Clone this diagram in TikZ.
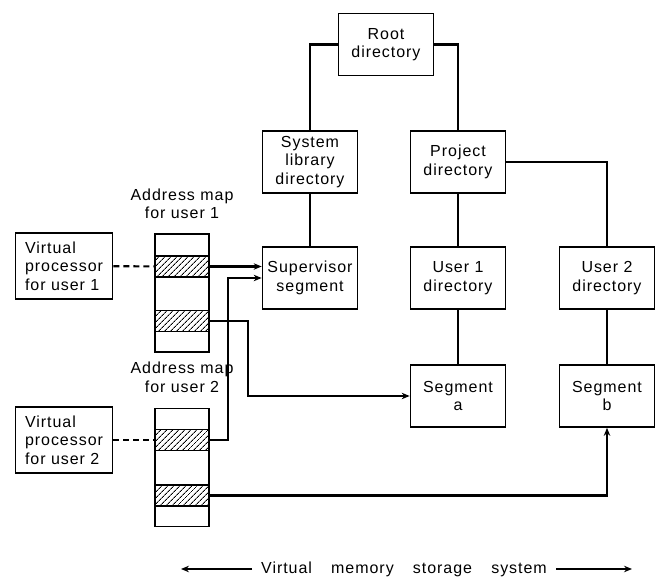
\documentclass[tikz,border=0pt]{standalone}
\usepackage{fontspec}
\setmainfont{Liberation Sans}[LetterSpace=6]
\usetikzlibrary{positioning,patterns.meta,arrows.meta}

\begin{document}
\begin{tikzpicture}[%
    x=1pt, y=-1pt,
    >={Stealth[length=8pt,width=6.5pt]},
    node distance=118pt,
    on grid,
    font=\fontsize{16}{18.5}\selectfont,
    box/.style={draw, line width=1.7pt, minimum width=95pt, minimum height=62pt,
                inner sep=0pt, align=center},
    vproc/.style={draw, line width=1.7pt, minimum width=97pt, minimum height=66pt,
                  inner sep=0pt, align=left},
    amap/.style={draw, line width=1.7pt, minimum width=54pt, minimum height=118pt, inner sep=0pt},
    band/.style={draw, line width=1.7pt, minimum width=54pt, minimum height=21pt, inner sep=0pt,
                 pattern={Lines[angle=45,distance=4pt,line width=0.9pt]}},
    link/.style={line width=2.1pt},
    ptr/.style={line width=2.1pt, ->}
  ]
    \useasboundingbox (0,0) rectangle (659,577);

    % directory tree
    \node[box] (root) at (386,44.5) {Root\\directory};
    \node[box] (syslib) [below left=117.5pt and 76pt of root] {System\\library\\directory};
    \node[box] (proj) [below right=117.5pt and 72pt of root] {Project\\directory};
    \node[box] (super) [below=116pt of syslib] {Supervisor\\segment};
    \node[box] (user1) [below=116pt of proj] {User 1\\directory};
    \node[box] (user2) [right=149pt of user1] {User 2\\directory};
    \node[box] (sega) [below=118pt of user1] {Segment\\a};
    \node[box] (segb) [below=118pt of user2] {Segment\\b};

    \draw[link] (root.west) -| (syslib.north)
                (root.east) -| (proj.north)
                (syslib) -- (super)
                (proj) -- (user1)
                (proj.east) -| (user2.north)
                (user1) -- (sega)
                (user2) -- (segb);

    % processors and address maps
    \node[vproc] (vp1) at (64,266) {Virtual\\processor\\for user 1};
    \node[vproc] (vp2) at (64,440) {Virtual\\processor\\for user 2};

    \node[amap] (map1) at (182,293) {};
    \node[band] (m1a) at (182,266.5) {};
    \node[band] (m1b) at (182,321) {};
    \node[align=center] (lab1) [above=89pt of map1] {Address map\\for user 1};

    \node[amap] (map2) at (182,467.5) {};
    \node[band] (m2a) at (182,440) {};
    \node[band] (m2b) at (182,495.5) {};
    \node[align=center] (lab2) [above=90pt of map2] {Address map\\for user 2};

    \draw[link, dash pattern=on 6pt off 4pt] (vp1) -- (m1a);
    \draw[link, dash pattern=on 6pt off 4pt] (vp2) -- (m2a);

    \draw[ptr] (m1a.east) -- (m1a.east -| super.west);
    \draw[ptr] (m2a.east) -- ++(18,0) |- (super.west);
    \draw[ptr] (m1b.east) -- ++(38,0) |- (sega.west);
    \draw[ptr] (m2b.east) -| (segb.south);

    % storage system caption
    \node[inner sep=9pt] (vms) at (404,569) {Virtual\hspace{1.2em}memory\hspace{1.2em}storage\hspace{1.2em}system};
    \coordinate (lft) at (181,569);
    \coordinate (rgt) at (632,569);
    \draw[ptr, line width=1.5pt] (vms) -- (lft);
    \draw[ptr, line width=1.5pt] (vms) -- (rgt);
  \end{tikzpicture}
\end{document}
